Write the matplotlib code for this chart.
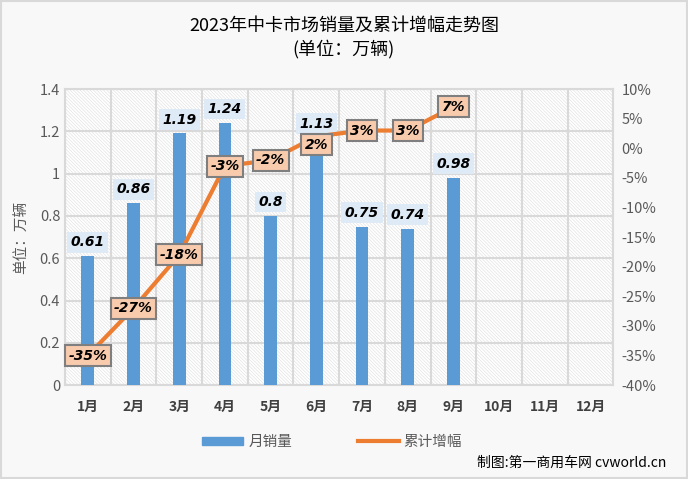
import numpy as np
import matplotlib
matplotlib.use("Agg")
import matplotlib.pyplot as plt
from matplotlib.patches import Rectangle
from matplotlib.lines import Line2D

plt.rcParams['font.family'] = ['Noto Sans CJK SC', 'DejaVu Sans']
plt.rcParams['hatch.linewidth'] = 0.4

# --- dati ---
months = [f"{i}月" for i in range(1, 13)]
sales = [0.61, 0.86, 1.19, 1.24, 0.8, 1.13, 0.75, 0.74, 0.98]
growth = [-35, -27, -18, -3, -2, 2, 3, 3, 7]
left_ticks = [0, 0.2, 0.4, 0.6, 0.8, 1, 1.2, 1.4]
right_ticks = list(range(-40, 11, 5))

BLUE = "#5b9bd5"
ORANGE = "#ed7d31"
GRAY = "#595959"

fig = plt.figure(figsize=(6.88, 4.79), dpi=100, facecolor="#f8f8f8")
fig.patches.append(Rectangle((0.002, 0.002), 0.996, 0.996, transform=fig.transFigure,
                             fill=False, edgecolor="#d9d9d9", lw=1.5))
ax = fig.add_axes([0.0945, 0.196, 0.797, 0.618])
ax.set_facecolor("white")
# tratteggio di sfondo dell'area del grafico
ax.add_patch(Rectangle((0, 0), 1, 1, transform=ax.transAxes, facecolor="none",
                       edgecolor="#dddddd", lw=0, hatch="\\" * 10, zorder=0))

x = np.arange(len(months))
ax.bar(x[:len(sales)], sales, width=0.28, color=BLUE, zorder=3)
ax.set_xlim(-0.5, 11.5)
ax.set_ylim(0, 1.4)
ax.set_yticks(left_ticks)
ax.set_yticklabels([f"{v:g}" for v in left_ticks], color=GRAY, fontsize=10.5)
ax.set_xticks(x)
ax.set_xticklabels(months, fontsize=10, fontweight="bold", color="#404040")
ax.set_xticks(np.arange(-0.5, 12, 1), minor=True)
ax.grid(which="minor", axis="x", color="#d9d9d9", lw=1.5, zorder=1)
ax.grid(which="major", axis="y", color="#d9d9d9", lw=1.5, zorder=1)
ax.set_axisbelow(True)
ax.tick_params(axis="both", which="both", length=0)
ax.tick_params(axis="x", pad=11)
for s in ax.spines.values():
    s.set_color("#d9d9d9"); s.set_linewidth(1.5)
ax.set_ylabel("单位：万辆", color=GRAY, fontsize=10.5, labelpad=8)

# etichette barre (1.13 spostata un po' in alto come nell'originale)
bar_off = [5, 5, 5, 5, 5, 11, 5, 5, 5]
for i, v in enumerate(sales):
    ax.annotate(f"{v:g}", (i, v), textcoords="offset points", xytext=(0, bar_off[i]),
                ha="center", va="bottom", fontsize=10, fontweight="bold", style="italic",
                family="DejaVu Sans", zorder=5,
                bbox=dict(boxstyle="square,pad=0.25", fc="#deebf7", ec="none"))

ax2 = ax.twinx()
ax2.plot(x[:len(growth)], growth, color=ORANGE, lw=3, zorder=4)
ax2.set_ylim(-40, 10)
ax2.set_yticks(right_ticks)
ax2.set_yticklabels([f"{v}%" for v in right_ticks], color=GRAY, fontsize=10.5)
ax2.tick_params(length=0, pad=6)
for s in ax2.spines.values():
    s.set_visible(False)
line_off = [0, 0, 0, 0, 0, -6, 0, 0, 0]
for i, v in enumerate(growth):
    ax2.annotate(f"{v}%", (i, v), textcoords="offset points", xytext=(0, line_off[i]),
                 ha="center", va="center", fontsize=10, fontweight="bold",
                 style="italic", family="DejaVu Sans", zorder=6,
                 bbox=dict(boxstyle="square,pad=0.25", fc="#f8cbad", ec="#7f7f7f", lw=1.5))

fig.text(0.5, 0.947, "2023年中卡市场销量及累计增幅走势图", ha="center", va="center", fontsize=13)
fig.text(0.5, 0.898, "(单位：万辆)", ha="center", va="center", fontsize=13)

handles = [Rectangle((0, 0), 1, 1, color=BLUE), Line2D([0], [0], color=ORANGE, lw=3)]
fig.legend(handles, ["月销量", "累计增幅"], loc="center", bbox_to_anchor=(0.483, 0.077),
           ncol=2, frameon=False, fontsize=10.5, labelcolor=GRAY, columnspacing=4.5,
           handlelength=2.8, handleheight=0.5, handletextpad=0.35)
fig.text(0.968, 0.033, "制图:第一商用车网 cvworld.cn", ha="right", va="center", fontsize=10)

fig.savefig("out.png", dpi=100, facecolor=fig.get_facecolor())
